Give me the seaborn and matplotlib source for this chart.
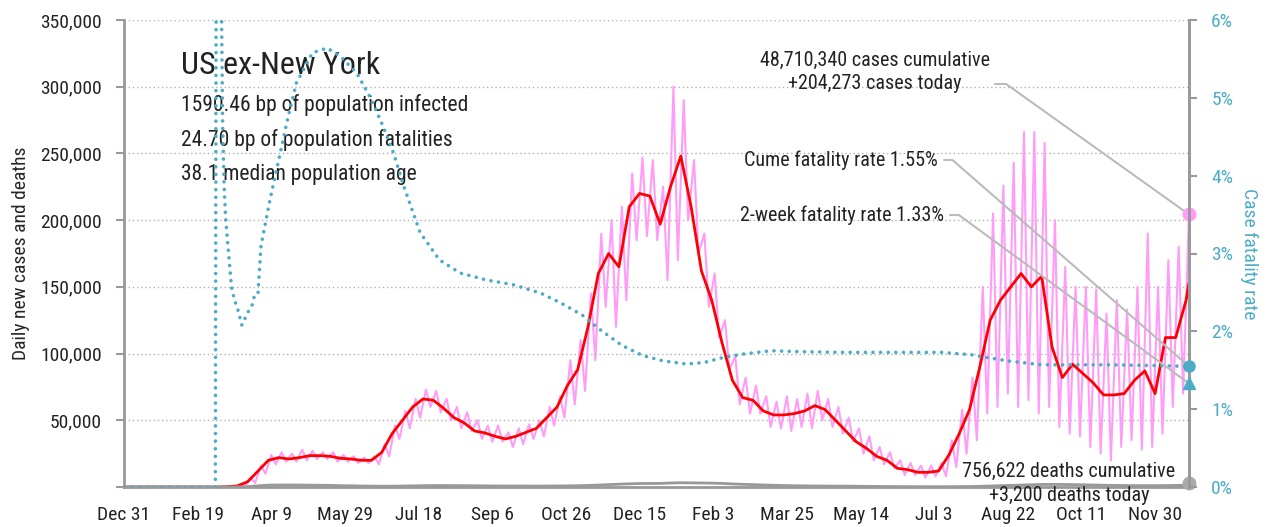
import numpy as np
import pandas as pd
import matplotlib
matplotlib.use("Agg")
import matplotlib.pyplot as plt
import matplotlib.dates as mdates
from matplotlib.ticker import FuncFormatter, MultipleLocator
import seaborn as sns

# * US ex-New York: daily cases, deaths and case fatality rate

start = pd.Timestamp("2019-12-31")
end = pd.Timestamp("2021-12-23")

# 7-day average of new cases, thousands, one value per week from Dec 31 2019
cases_avg = [0, 0, 0, 0, 0, 0, 0, 0, 0, 0,
             0.2, 0.8, 4, 12, 20, 22, 21, 22, 23.5, 23.5,
             23, 21.5, 21, 20, 20, 26, 40, 50, 60, 66,
             65, 59, 52, 48, 42, 40.5, 38, 36, 38, 41,
             44, 52, 60, 76, 88, 120, 160, 175, 165, 210,
             220, 218, 197, 225, 248, 210, 162, 140, 108, 80,
             67, 65, 57, 54, 54, 55, 57, 61, 58, 50,
             42, 34, 29, 23, 20, 14, 13, 11, 11, 12,
             24, 40, 58, 90, 125, 140, 150, 160, 150, 158,
             105, 82, 92, 85, 78, 69, 69, 70, 80, 87,
             70, 112, 112, 140]

# daily reported cases, thousands: weekly high and weekly low
cases_high = [0, 0, 0, 0, 0, 0, 0, 0, 0, 0,
              0.5, 2, 7, 16, 24, 26, 25, 28, 27, 26,
              26, 24, 23, 22, 23, 32, 46, 57, 66, 73,
              72, 66, 60, 56, 50, 46, 46, 41, 44, 47,
              50, 60, 68, 95, 110, 145, 190, 200, 210, 235,
              247, 245, 225, 300, 290, 245, 190, 160, 125, 98,
              82, 76, 68, 64, 68, 66, 70, 72, 66, 60,
              52, 44, 38, 30, 26, 20, 18, 16, 16, 18,
              35, 58, 82, 150, 205, 226, 243, 266, 266, 258,
              200, 165, 150, 150, 148, 130, 140, 133, 150, 190,
              150, 170, 180, 204.273]
cases_low = [0, 0, 0, 0, 0, 0, 0, 0, 0, 0,
             0.1, 0.5, 3, 10, 17, 19, 19, 20, 21, 21,
             19, 19, 18, 18, 17, 23, 36, 44, 52, 60,
             56, 50, 44, 42, 36, 34, 34, 30, 32, 36,
             38, 46, 52, 62, 72, 95, 135, 120, 140, 185,
             188, 185, 155, 170, 200, 175, 135, 112, 88, 62,
             55, 55, 45, 44, 42, 45, 44, 50, 45, 40,
             34, 25, 20, 17, 14, 9, 9, 7, 8, 8,
             15, 25, 35, 55, 60, 70, 60, 65, 55, 60,
             45, 40, 38, 30, 25, 20, 30, 35, 28, 30,
             40, 60, 70]

# daily deaths, one value per week
deaths = [0, 0, 0, 0, 0, 0, 0, 0, 0, 0,
          0, 50, 300, 900, 1400, 1500, 1500, 1500, 1400, 1300,
          1200, 1000, 900, 750, 650, 600, 600, 700, 850, 1000,
          1100, 1100, 1050, 1000, 950, 850, 800, 750, 750, 720,
          700, 750, 800, 850, 950, 1150, 1450, 1800, 2100, 2400,
          2600, 2650, 2700, 3000, 3200, 3100, 3000, 2900, 2700, 2300,
          2000, 1800, 1500, 1300, 1100, 950, 850, 750, 700, 680,
          650, 600, 500, 420, 350, 300, 280, 250, 230, 220,
          240, 280, 380, 500, 750, 1000, 1200, 1450, 1700, 1900,
          1950, 1900, 1800, 1650, 1500, 1300, 1200, 1100, 1050, 1000,
          1000, 1050, 1200, 1300]

# cumulative case fatality rate, %
cfr_dates = ["2019-12-31", "2020-03-02", "2020-03-03", "2020-03-05", "2020-03-06",
             "2020-03-07", "2020-03-08", "2020-03-09", "2020-03-11", "2020-03-13",
             "2020-03-15", "2020-03-17", "2020-03-20", "2020-03-24", "2020-03-27",
             "2020-03-29", "2020-03-31", "2020-04-02", "2020-04-08", "2020-04-14",
             "2020-04-20", "2020-04-26", "2020-05-07", "2020-05-17", "2020-05-26",
             "2020-06-06", "2020-06-15", "2020-06-24", "2020-07-01", "2020-07-08",
             "2020-07-19", "2020-08-01", "2020-08-15", "2020-09-02", "2020-09-20",
             "2020-10-09", "2020-10-23", "2020-11-06", "2020-11-19", "2020-12-03",
             "2020-12-17", "2020-12-31", "2021-01-16", "2021-01-28", "2021-02-11",
             "2021-02-24", "2021-03-14", "2021-04-01", "2021-05-01", "2021-06-01",
             "2021-07-08", "2021-07-28", "2021-08-09", "2021-08-22", "2021-09-14",
             "2021-10-29", "2021-11-30", "2021-12-23"]
cfr_pct = [0, 0, 12, 9, 6.5,
           4.6, 3.85, 3.45, 3.0, 2.57,
           2.4, 2.3, 2.08, 2.24, 2.34,
           2.49, 2.5, 3.1, 3.68, 4.2,
           4.72, 5.19, 5.58, 5.64, 5.53,
           5.32, 5.01, 4.63, 4.29, 3.86,
           3.27, 2.92, 2.75, 2.66, 2.60,
           2.49, 2.36, 2.21, 2.01, 1.82,
           1.69, 1.62, 1.58, 1.60, 1.67,
           1.71, 1.75, 1.74, 1.73, 1.73,
           1.73, 1.70, 1.66, 1.62, 1.57,
           1.57, 1.56, 1.55]

cases_cumulative = 48710340
cases_today = 204273
cases_avg_today = 153000
deaths_cumulative = 756622
deaths_today = 3200
cfr_cume = 1.55
cfr_2wk = 1.33

pop_infected_bp = 1590.46
pop_fatal_bp = 24.70
median_age = 38.1

teal = "#4bacc6"
pink = "#ff9cf7"
red = "#ff0000"
grey = "#999999"

# tables
weeks = pd.date_range(start, periods=len(cases_avg), freq="7D")
avg_df = pd.DataFrame({"date": list(weeks) + [end],
                       "cases": np.array(cases_avg + [cases_avg_today / 1000]) * 1000})
daily_df = pd.concat([
    pd.DataFrame({"date": weeks + pd.Timedelta(days=2), "cases": np.array(cases_high) * 1000}),
    pd.DataFrame({"date": weeks[:len(cases_low)] + pd.Timedelta(days=5), "cases": np.array(cases_low) * 1000}),
]).sort_values("date")
deaths_df = pd.DataFrame({"date": list(weeks) + [end], "deaths": deaths + [deaths_today]})
cfr_df = pd.DataFrame({"date": pd.to_datetime(cfr_dates), "cfr": cfr_pct})

sns.set_style("white")
plt.rcParams["font.family"] = ["Roboto Condensed", "DejaVu Sans"]
plt.rcParams["text.color"] = "#222222"

fig = plt.figure(figsize=(12.66, 5.27), dpi=100)
ax = fig.add_axes([124 / 1266, 1 - 487 / 527, 1065 / 1266, 467 / 527])
ax2 = ax.twinx()

sns.lineplot(data=daily_df, x="date", y="cases", color=pink, lw=1.5, ax=ax)
sns.lineplot(data=avg_df, x="date", y="cases", color=red, lw=2, ax=ax)
sns.lineplot(data=deaths_df, x="date", y="deaths", color=grey, lw=2, ax=ax)
sns.lineplot(data=cfr_df, x="date", y="cfr", color=teal, lw=2.6,
             linestyle=(0, (0.01, 2.1)), dash_capstyle="round", ax=ax2)

# end-of-series markers
ax.plot([end], [cases_today], "o", color=pink, ms=9, clip_on=False, zorder=5)
ax.plot([end], [deaths_today], "o", color="#aaaaaa", ms=9, clip_on=False, zorder=5)
ax2.plot([end], [cfr_cume], "o", color=teal, ms=8, clip_on=False, zorder=5)
ax2.plot([end], [cfr_2wk], "^", color=teal, ms=9, clip_on=False, zorder=5)

# axes
ax.set_xlim(start, end)
ax.set_ylim(0, 350000)
ax2.set_ylim(0, 6)
ax.yaxis.set_major_locator(MultipleLocator(50000))
ax.yaxis.set_major_formatter(FuncFormatter(lambda v, p: f"{v:,.0f}" if v > 0 else ""))
ax2.yaxis.set_major_locator(MultipleLocator(1))
ax2.yaxis.set_major_formatter(FuncFormatter(lambda v, p: f"{v:.0f}%"))
ax.set_xticks(pd.date_range(start, periods=15, freq="50D"))


def date_label(v, p):
    d = mdates.num2date(v)
    return f"{d:%b} {d.day}"


ax.xaxis.set_major_formatter(FuncFormatter(date_label))

ax.grid(False)
ax2.grid(False)
ax.yaxis.grid(True, linestyle=(0, (1, 2)), color="#b0b0b0", lw=1)
for s in ["left", "bottom", "right"]:
    ax.spines[s].set_color(grey)
    ax.spines[s].set_linewidth(2)
ax.spines["top"].set_visible(False)
for s in ["left", "bottom", "top"]:
    ax2.spines[s].set_visible(False)
ax2.spines["right"].set_color(grey)
ax2.spines["right"].set_linewidth(2)

ax.tick_params(axis="both", direction="out", length=6, width=1.5, color=grey,
               labelsize=14, labelcolor="#222222")
ax.tick_params(axis="x", pad=8)
ax.tick_params(axis="y", pad=10)
ax2.tick_params(axis="y", direction="out", length=6, width=1.5, color=grey,
                labelsize=14, labelcolor=teal, pad=10)

ax.set_xlabel("")
ax.set_ylabel("Daily new cases and deaths", fontsize=14, labelpad=7)
ax2.set_ylabel("Case fatality rate", fontsize=14, color=teal, rotation=270, labelpad=18)

# text block
ax.text(0.0535, 0.9036, "US ex-New York", transform=ax.transAxes, fontsize=23,
        va="center", ha="left")
ax.text(0.0535, 0.818, f"{pop_infected_bp:.2f} bp of population infected",
        transform=ax.transAxes, fontsize=15.5, va="center")
ax.text(0.0535, 0.743, f"{pop_fatal_bp:.2f} bp of population fatalities",
        transform=ax.transAxes, fontsize=15.5, va="center")
ax.text(0.0535, 0.670, f"{median_age} median population age",
        transform=ax.transAxes, fontsize=15.5, va="center")

ax.text(0.705, 0.8887, f"{cases_cumulative:,} cases cumulative\n+{cases_today:,} cases today",
        transform=ax.transAxes, fontsize=14.5, ha="center", va="center", linespacing=1.3)
ax.text(0.7643, 0.7002, f"Cume fatality rate {cfr_cume:.2f}%", transform=ax.transAxes,
        fontsize=14.5, ha="right", va="center")
ax.text(0.770, 0.5824, f"2-week fatality rate {cfr_2wk:.2f}%", transform=ax.transAxes,
        fontsize=14.5, ha="right", va="center")
ax.text(0.8873, 0.0075, f"{deaths_cumulative:,} deaths cumulative\n+{deaths_today:,} deaths today",
        transform=ax.transAxes, fontsize=14.5, ha="center", va="center", linespacing=1.3,
        clip_on=False, zorder=6)

# connectors from labels to end markers
line_kw = dict(arrowstyle="-", color="#bbbbbb", lw=1.5, shrinkA=0, shrinkB=0)
ax.annotate("", xy=(end, cases_today), xycoords="data",
            xytext=(0.8178, 0.8630), textcoords="axes fraction",
            arrowprops=dict(connectionstyle="angle,angleA=0,angleB=-35.5,rad=0", **line_kw))
ax2.annotate("", xy=(end, cfr_cume), xycoords="data",
             xytext=(0.7700, 0.7002), textcoords="axes fraction",
             arrowprops=dict(connectionstyle="angle,angleA=0,angleB=-41.1,rad=0", **line_kw))
ax2.annotate("", xy=(end, cfr_2wk), xycoords="data",
             xytext=(0.7756, 0.5824), textcoords="axes fraction",
             arrowprops=dict(connectionstyle="angle,angleA=0,angleB=-36.2,rad=0", **line_kw))

fig.savefig("out.png", dpi=100)
